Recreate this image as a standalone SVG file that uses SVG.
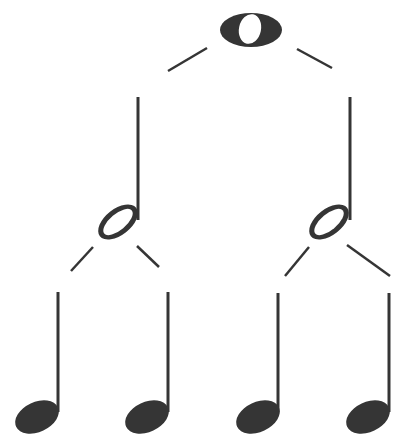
<svg xmlns="http://www.w3.org/2000/svg" width="404" height="438" viewBox="0 0 404 438">
<style>
.ink{fill:#353535}
.hole{fill:#ffffff}
.stem{stroke:#353535;stroke-width:3;fill:none}
.conn{stroke:#353535;stroke-width:2.5;fill:none;stroke-linecap:butt}
</style>
<rect width="404" height="438" fill="#ffffff"/>
<g id="connectors">
<line class="conn" x1="207" y1="48" x2="168" y2="71"/>
<line class="conn" x1="297" y1="49" x2="332" y2="68"/>
<line class="conn" x1="93" y1="247" x2="71" y2="271"/>
<line class="conn" x1="137" y1="246" x2="159" y2="267"/>
<line class="conn" x1="309" y1="247" x2="285" y2="276"/>
<line class="conn" x1="347" y1="245" x2="390" y2="276"/>
</g>
<g id="whole">
<ellipse class="ink" cx="251" cy="30" rx="31" ry="17"/>
<ellipse class="hole" cx="250" cy="29" rx="11" ry="15" transform="rotate(12 250 29)"/>
</g>
<g id="half-left">
<line class="stem" x1="138" y1="97" x2="138" y2="220"/>
<ellipse class="ink" cx="118" cy="222" rx="23" ry="13" transform="rotate(-38 118 222)"/>
<ellipse class="hole" cx="118" cy="222" rx="18" ry="8" transform="rotate(-40 118 222)"/>
</g>
<g id="half-right">
<line class="stem" x1="350" y1="97" x2="350" y2="220"/>
<ellipse class="ink" cx="329" cy="222" rx="23" ry="13" transform="rotate(-38 329 222)"/>
<ellipse class="hole" cx="329" cy="222" rx="18" ry="8" transform="rotate(-40 329 222)"/>
</g>
<g id="quarter-1">
<line class="stem" x1="58" y1="292" x2="58" y2="412"/>
<ellipse class="ink" cx="37" cy="417" rx="23" ry="15" transform="rotate(-25 37 417)"/>
</g>
<g id="quarter-2">
<line class="stem" x1="168" y1="292" x2="168" y2="412"/>
<ellipse class="ink" cx="147" cy="417" rx="23" ry="15" transform="rotate(-25 147 417)"/>
</g>
<g id="quarter-3">
<line class="stem" x1="278" y1="293" x2="278" y2="412"/>
<ellipse class="ink" cx="258" cy="417" rx="23" ry="15" transform="rotate(-25 258 417)"/>
</g>
<g id="quarter-4">
<line class="stem" x1="389" y1="293" x2="389" y2="412"/>
<ellipse class="ink" cx="368" cy="417" rx="23" ry="15" transform="rotate(-25 368 417)"/>
</g>
</svg>
